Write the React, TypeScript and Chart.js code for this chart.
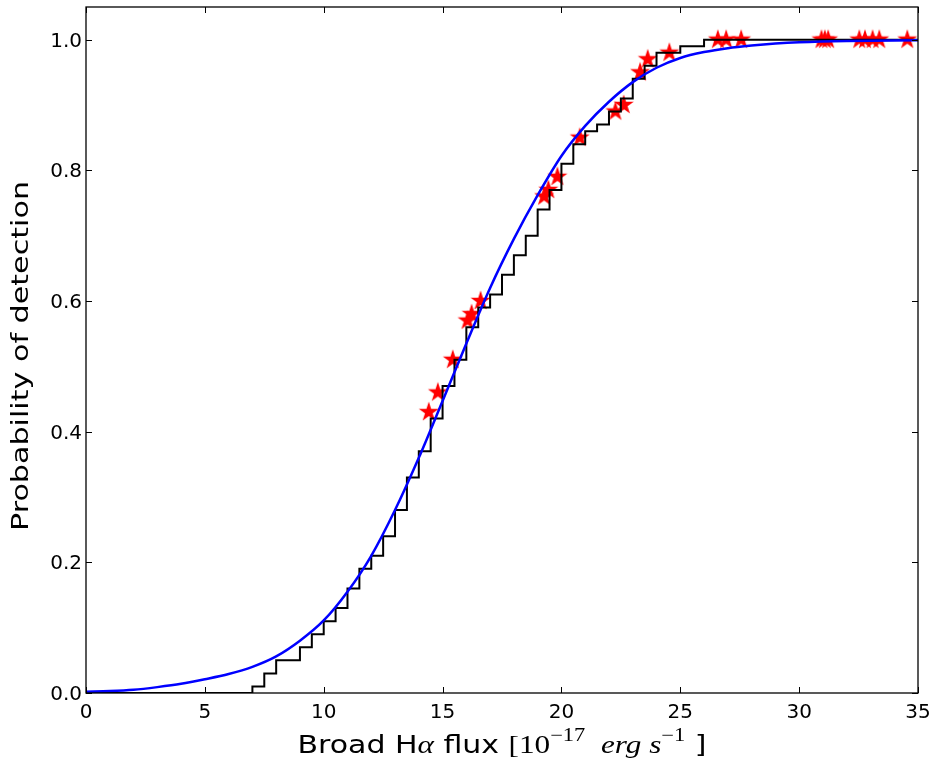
import React, { useEffect, useRef } from 'react';
import { Chart, registerables } from 'chart.js';

Chart.register(...registerables);

// Fitted detection-probability curve (blue)
const curveX = [0, 1, 2, 3, 4, 5, 6, 7, 8, 9, 10, 11, 12, 13, 14, 15, 16, 17, 18, 19, 20, 21, 22, 23, 24, 25, 26, 27, 28, 29, 30, 32, 35];
const curveY = [0.002, 0.003, 0.005, 0.009, 0.014, 0.021, 0.029, 0.040, 0.056, 0.080, 0.111, 0.155, 0.210, 0.280, 0.360, 0.447, 0.535, 0.620, 0.695, 0.762, 0.822, 0.868, 0.905, 0.935, 0.957, 0.972, 0.981, 0.987, 0.991, 0.994, 0.996, 0.998, 0.999];

// Empirical step function (black)
const stepX = [0, 7, 7.5, 8, 9, 9.5, 10, 10.5, 11, 11.5, 12, 12.5, 13, 13.5, 14, 14.5, 15, 15.5, 16, 16.5, 17, 17.5, 18, 18.5, 19, 19.5, 20, 20.5, 21, 21.5, 22, 22.5, 23, 23.5, 24, 25, 26, 35];
const stepY = [0, 0.01, 0.03, 0.05, 0.07, 0.09, 0.11, 0.13, 0.16, 0.19, 0.21, 0.24, 0.28, 0.33, 0.37, 0.42, 0.47, 0.51, 0.56, 0.59, 0.61, 0.64, 0.67, 0.70, 0.74, 0.77, 0.81, 0.84, 0.86, 0.87, 0.89, 0.91, 0.94, 0.96, 0.98, 0.99, 1.0, 1.0];

// Detected objects (red stars)
const starX = [14.42, 14.80, 15.43, 16.05, 16.22, 16.60, 19.27, 19.45, 19.83, 20.77, 22.27, 22.62, 23.31, 23.63, 24.54, 26.58, 26.93, 27.56, 30.94, 31.08, 31.22, 32.53, 32.77, 33.09, 33.37, 34.55];
const starY = [0.43, 0.46, 0.51, 0.57, 0.58, 0.60, 0.76, 0.77, 0.79, 0.85, 0.89, 0.90, 0.95, 0.97, 0.98, 1.0, 1.0, 1.0, 1.0, 1.0, 1.0, 1.0, 1.0, 1.0, 1.0, 1.0];

const xTicks = [0, 5, 10, 15, 20, 25, 30, 35];
const xTickLabels = ['0', '5', '10', '15', '20', '25', '30', '35'];
const yTicks = [0, 0.2, 0.4, 0.6, 0.8, 1.0];
const yTickLabels = ['0.0', '0.2', '0.4', '0.6', '0.8', '1.0'];

const SANS = '"DejaVu Sans", sans-serif';
const SERIF = '"Liberation Serif", "DejaVu Serif", serif';

function makeStar(): HTMLCanvasElement {
  const c = document.createElement('canvas');
  c.width = 24;
  c.height = 24;
  const g = c.getContext('2d')!;
  const R = 10.5;
  const r = R * 0.382;
  const cx = 12;
  const cy = 12;
  g.beginPath();
  for (let i = 0; i < 10; i++) {
    const ang = -Math.PI / 2 + (i * Math.PI) / 5;
    const rad = i % 2 === 0 ? R : r;
    const px = cx + rad * Math.cos(ang);
    const py = cy + rad * Math.sin(ang);
    if (i === 0) g.moveTo(px, py);
    else g.lineTo(px, py);
  }
  g.closePath();
  g.fillStyle = '#ff0000';
  g.fill();
  return c;
}

const framePlugin = {
  id: 'mplFrame',
  afterDatasetsDraw(chart: any) {
    const { ctx, chartArea, scales } = chart;
    const { left, right, top, bottom } = chartArea;
    const xs = scales.x;
    const ys = scales.y;
    ctx.save();
    ctx.strokeStyle = '#000';
    ctx.lineWidth = 1.3;
    ctx.strokeRect(left, top, right - left, bottom - top);
    ctx.lineWidth = 1;
    const L = 6;
    ctx.beginPath();
    xTicks.forEach((v) => {
      const px = Math.round(xs.getPixelForValue(v)) + 0.5;
      ctx.moveTo(px, bottom);
      ctx.lineTo(px, bottom - L);
      ctx.moveTo(px, top);
      ctx.lineTo(px, top + L);
    });
    yTicks.forEach((v) => {
      const py = Math.round(ys.getPixelForValue(v)) + 0.5;
      ctx.moveTo(left, py);
      ctx.lineTo(left + L, py);
      ctx.moveTo(right, py);
      ctx.lineTo(right - L, py);
    });
    ctx.stroke();
    ctx.restore();
  },
  afterDraw(chart: any) {
    const { ctx, chartArea, scales } = chart;
    const xs = scales.x;
    const ys = scales.y;
    const cxMid = (chartArea.left + chartArea.right) / 2;
    ctx.save();
    ctx.fillStyle = '#000';
    ctx.textBaseline = 'alphabetic';

    // Tick labels
    ctx.font = `20px ${SANS}`;
    ctx.textAlign = 'center';
    xTicks.forEach((v, i) => {
      ctx.fillText(xTickLabels[i], xs.getPixelForValue(v), chartArea.bottom + 25);
    });
    ctx.textAlign = 'right';
    yTicks.forEach((v, i) => {
      ctx.fillText(yTickLabels[i], chartArea.left - 4, ys.getPixelForValue(v) + 7);
    });

    // Y axis title
    ctx.save();
    ctx.translate(28, 356);
    ctx.rotate(-Math.PI / 2);
    ctx.font = `23px ${SANS}`;
    const yText = 'Probability of detection';
    const yw = ctx.measureText(yText).width;
    const ysx = 350 / yw;
    ctx.scale(ysx, 1);
    ctx.textAlign = 'center';
    ctx.fillText(yText, 0, 0);
    ctx.restore();

    // X axis title with math parts
    const segs = [
      { t: 'Broad H', f: `24px ${SANS}`, dy: 0 },
      { t: 'α', f: `italic 25px ${SERIF}`, dy: 0 },
      { t: ' flux ', f: `24px ${SANS}`, dy: 0 },
      { t: '[10', f: `25px ${SERIF}`, dy: 0 },
      { t: '−17', f: `18px ${SERIF}`, dy: -12 },
      { t: '  ', f: `25px ${SERIF}`, dy: 0 },
      { t: 'erg', f: `italic 25px ${SERIF}`, dy: 0 },
      { t: ' s', f: `italic 25px ${SERIF}`, dy: 0 },
      { t: '−1', f: `18px ${SERIF}`, dy: -12 },
      { t: ' ]', f: `24px ${SANS}`, dy: 0 },
    ];
    let total = 0;
    const widths = segs.map((s) => {
      ctx.font = s.f;
      const w = ctx.measureText(s.t).width;
      total += w;
      return w;
    });
    const xsx = 409 / total;
    ctx.translate(cxMid, 753);
    ctx.scale(xsx, 1);
    ctx.textAlign = 'left';
    let cur = -total / 2;
    segs.forEach((s, i) => {
      ctx.font = s.f;
      ctx.fillText(s.t, cur, s.dy);
      cur += widths[i];
    });
    ctx.restore();
  },
};

export default function App() {
  const ref = useRef<HTMLCanvasElement | null>(null);

  useEffect(() => {
    if (!ref.current) return;
    const star = makeStar();
    const chart = new Chart(ref.current, {
      type: 'scatter',
      data: {
        datasets: [
          {
            label: 'Fit',
            data: curveX.map((x, i) => ({ x, y: curveY[i] })),
            showLine: true,
            borderColor: '#0000ff',
            borderWidth: 2.5,
            pointRadius: 0,
            cubicInterpolationMode: 'monotone',
            order: 1,
          } as any,
          {
            label: 'Empirical',
            data: stepX.map((x, i) => ({ x, y: stepY[i] })),
            showLine: true,
            stepped: 'before',
            borderColor: '#000000',
            borderWidth: 2,
            pointRadius: 0,
            order: 2,
          } as any,
          {
            label: 'Detected',
            data: starX.map((x, i) => ({ x, y: starY[i] })),
            showLine: false,
            pointStyle: star,
            pointRadius: 10,
            order: 3,
          } as any,
        ],
      },
      options: {
        responsive: false,
        animation: false,
        devicePixelRatio: 1,
        layout: { autoPadding: false, padding: { left: 0, right: 17, top: 7, bottom: 0 } },
        plugins: {
          legend: { display: false },
          tooltip: { enabled: false },
          title: { display: false },
        },
        scales: {
          x: {
            type: 'linear',
            min: 0,
            max: 35,
            grid: { display: false, drawTicks: false },
            border: { display: false },
            afterBuildTicks: (s: any) => {
              s.ticks = xTicks.map((v) => ({ value: v }));
            },
            afterFit: (s: any) => {
              s.height = 72;
            },
            ticks: { display: false },
          },
          y: {
            type: 'linear',
            min: 0,
            max: 1.05,
            grid: { display: false, drawTicks: false },
            border: { display: false },
            afterBuildTicks: (s: any) => {
              s.ticks = yTicks.map((v) => ({ value: v }));
            },
            afterFit: (s: any) => {
              s.width = 86;
            },
            ticks: { display: false },
          },
        },
      },
      plugins: [framePlugin],
    });
    return () => chart.destroy();
  }, []);

  return (
    <div style={{ position: 'absolute', left: 0, top: 0, width: 935, height: 765, background: '#fff' }}>
      <canvas ref={ref} width={935} height={765} style={{ width: 935, height: 765, display: 'block' }} />
    </div>
  );
}
